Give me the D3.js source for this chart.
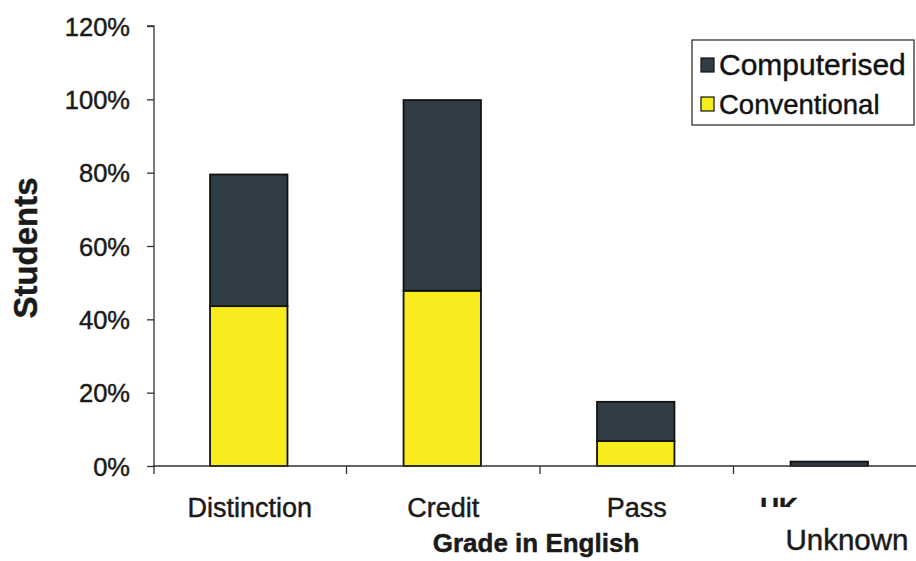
<!DOCTYPE html>
<html>
<head>
<meta charset="utf-8">
<script src="https://cdn.jsdelivr.net/npm/d3@7"></script>
<style>
  html, body { margin: 0; padding: 0; background: #ffffff; }
  svg { display: block; font-family: "Liberation Sans", Arial, sans-serif; }
  text { stroke: #1a1a1a; stroke-width: 0.45px; }
</style>
</head>
<body>
<svg id="chart" width="916" height="561"></svg>
<script>
// Share of students per English grade, by marking method
const grades = ["Distinction", "Credit", "Pass", "Unknown"];
const conventional = [0.436, 0.478, 0.068, 0.0];
const computerised = [0.359, 0.520, 0.107, 0.012];
const seriesNames = ["Conventional", "Computerised"];
const yTicks = [0, 0.2, 0.4, 0.6, 0.8, 1.0, 1.2];

const colors = { Computerised: "#313d46", Conventional: "#f8ec1f" };

const svg = d3.select("#chart");

const x = d3.scaleBand().domain(grades).range([153, 927]).paddingInner(0.6).paddingOuter(0.3);
const y = d3.scaleLinear().domain([0, 1.2]).range([466, 26]);

const rows = grades.map((g, i) => ({ grade: g, Conventional: conventional[i], Computerised: computerised[i] }));
const stacked = d3.stack().keys(seriesNames)(rows);

// stacked bars
svg.append("g")
  .selectAll("g")
  .data(stacked)
  .join("g")
  .attr("fill", d => colors[d.key])
  .selectAll("rect")
  .data(d => d)
  .join("rect")
  .attr("x", d => x(d.data.grade) - 1)
  .attr("width", x.bandwidth())
  .attr("y", d => y(d[1]))
  .attr("height", d => y(d[0]) - y(d[1]))
  .attr("stroke", "#111")
  .attr("stroke-width", 1.8);

// y axis
const yAxis = svg.append("g")
  .attr("transform", "translate(154,0)")
  .call(d3.axisLeft(y).tickValues(yTicks).tickFormat(d3.format(".0%")).tickSize(7).tickPadding(17));
yAxis.select(".domain").attr("stroke", "#333").attr("stroke-width", 1.3).attr("d", "M-7,26H0V474");
yAxis.selectAll(".tick line").attr("stroke", "#333").attr("stroke-width", 1.3);
yAxis.selectAll(".tick text")
  .attr("font-size", 25.5).attr("fill", "#1a1a1a")
  .attr("font-family", "'Liberation Sans', Arial, sans-serif")
  .attr("dy", "0.36em");

// x axis with ticks on category boundaries
const boundaries = d3.range(1, grades.length).map(i => x.range()[0] + i * x.step());
const xg = svg.append("g");
xg.append("line").attr("x1", 153).attr("x2", 927).attr("y1", 466).attr("y2", 466)
  .attr("stroke", "#333").attr("stroke-width", 1.3);
xg.selectAll("line.tk").data(boundaries).join("line").attr("class", "tk")
  .attr("x1", d => d).attr("x2", d => d).attr("y1", 466).attr("y2", 474)
  .attr("stroke", "#333").attr("stroke-width", 1.3);

// category labels
const catLabels = grades.slice(0, 3);
svg.append("g").selectAll("text").data(catLabels).join("text")
  .attr("x", d => x(d) + x.bandwidth() / 2)
  .attr("y", 517)
  .attr("text-anchor", "middle")
  .attr("font-size", 27)
  .attr("fill", "#1a1a1a")
  .text(d => d);

// last category: old label partly cut off above the replacement
svg.append("clipPath").attr("id", "ukclip")
  .append("rect").attr("x", 740).attr("y", 494).attr("width", 100).attr("height", 13);
svg.append("text")
  .attr("x", 779).attr("y", 516)
  .attr("text-anchor", "middle")
  .attr("font-size", 26)
  .attr("font-weight", "bold")
  .attr("fill", "#1a1a1a")
  .attr("clip-path", "url(#ukclip)")
  .text("UK");
svg.append("text")
  .attr("x", 847).attr("y", 550)
  .attr("text-anchor", "middle")
  .attr("font-size", 29.5)
  .attr("fill", "#1a1a1a")
  .text(grades[3]);

// axis titles
svg.append("text")
  .attr("x", 536).attr("y", 552)
  .attr("text-anchor", "middle")
  .attr("font-size", 26)
  .attr("font-weight", "bold")
  .attr("fill", "#1a1a1a")
  .text("Grade in English");

svg.append("text")
  .attr("transform", "translate(37,248) rotate(-90)")
  .attr("text-anchor", "middle")
  .attr("font-size", 33)
  .attr("font-weight", "bold")
  .attr("fill", "#1a1a1a")
  .text("Students");

// legend
const legend = svg.append("g");
legend.append("rect").attr("x", 692).attr("y", 40).attr("width", 222).attr("height", 85)
  .attr("fill", "#fff").attr("stroke", "#333").attr("stroke-width", 1.3);
const legendItems = ["Computerised", "Conventional"];
const li = legend.selectAll("g.item").data(legendItems).join("g").attr("class", "item")
  .attr("transform", (d, i) => `translate(0,${i * 39})`);
li.append("rect").attr("x", 701).attr("y", 58).attr("width", 13).attr("height", 14)
  .attr("fill", d => colors[d]).attr("stroke", "#111").attr("stroke-width", 1.2);
li.append("text").attr("x", 719).attr("y", 75)
  .attr("font-size", (d, i) => i === 0 ? 30 : 27.5)
  .attr("fill", "#111")
  .text(d => d);
</script>
</body>
</html>
